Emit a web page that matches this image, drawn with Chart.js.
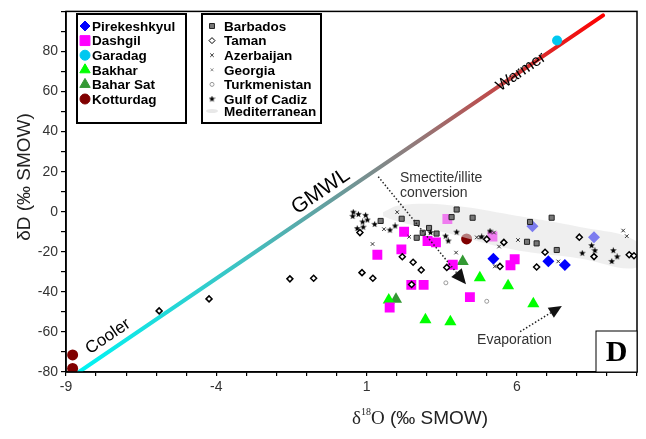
<!DOCTYPE html>
<html>
<head>
<meta charset="utf-8">
<script src="https://cdn.jsdelivr.net/npm/chart.js@4.4.0/dist/chart.umd.min.js"></script>
<style>
  html, body { margin: 0; padding: 0; background: #fff; }
</style>
</head>
<body>
<canvas id="chart" width="646" height="439"></canvas>
<script>
// values, [d18O, dD]
var pirekeshkyul = [[6.52, -7.3], [8.57, -12.7], [5.22, -23.5], [7.05, -24.7], [7.6, -26.6]];
var dashgil = [[2.25, -10.0], [3.03, -14.6], [3.31, -15.3], [1.36, -21.5], [2.16, -18.8], [3.87, -26.5],
  [5.93, -23.7], [5.79, -26.7], [2.49, -36.5], [2.9, -36.5], [4.44, -42.6], [1.77, -47.8],
  [3.69, -3.6], [5.19, -12.4]];
var garadag = [[7.34, 85.5]];
var bakhar = [[4.77, -33.0], [5.71, -37.0], [6.55, -45.9], [1.74, -44.0], [2.96, -53.9], [3.79, -54.9]];
var baharSat = [[4.2, -24.8], [1.98, -43.7]];
var kotturdag = [[-8.78, -71.5], [-8.78, -78.2], [4.33, -13.6]];
var barbados = [[4.0, 1.1], [3.83, -2.7], [4.53, -3.0], [1.47, -4.6], [2.17, -3.5], [2.67, -5.6],
  [3.08, -8.1], [2.87, -10.5], [3.33, -10.9], [2.67, -13.0], [6.44, -5.1], [7.16, -3.0],
  [6.34, -15.0], [6.66, -15.8], [7.33, -19.1]];
var taman = [[-5.9, -49.5], [-4.24, -43.5], [-1.55, -33.5], [-0.76, -33.2], [0.85, -30.4], [1.21, -33.2],
  [2.19, -22.5], [2.55, -25.2], [2.82, -29.1], [2.5, -36.3], [3.67, -27.8], [0.78, -10.4],
  [5.0, -13.7], [5.57, -15.3], [6.94, -20.2], [5.44, -27.3], [6.66, -27.6], [8.08, -12.7],
  [8.57, -22.4], [9.74, -21.5], [9.9, -22.0]];
var azerbaijan = [[2.02, -0.2], [1.2, -16.1], [1.58, -8.7], [2.42, -12.5], [3.98, -20.4], [4.67, -12.8],
  [5.24, -10.4], [5.41, -17.4], [6.04, -14.1], [7.38, -24.8], [5.27, -27.3], [9.54, -9.4],
  [9.66, -12.2], [4.78, -12.8]];
var georgia = [[5.3, -27.0]];
var turkmenistan = [[3.64, -35.5], [5.0, -44.7]];
var gulfOfCadiz = [[0.56, -0.2], [0.73, -1.3], [0.54, -2.3], [0.97, -1.8], [1.03, -4.1], [0.87, -5.1],
  [1.27, -6.3], [0.69, -8.4], [0.89, -7.7], [1.78, -9.2], [1.95, -7.1], [3.13, -10.4],
  [3.63, -12.2], [3.72, -14.6], [4.0, -10.2], [4.83, -12.5], [5.11, -9.7], [8.49, -16.9],
  [8.6, -19.4], [8.18, -20.7], [9.21, -19.4], [9.34, -22.5], [9.16, -24.8]];
var mediterranean = [[1.55, -0.2], [2.11, 3.25], [3.78, 3.25], [5.88, -1.7], [8.1, -7.6], [10.0, -15.0],
  [10.0, -27.8], [8.1, -23.3], [5.88, -18.9], [3.78, -11.0], [2.11, -5.1], [1.55, -2.2]];
var gmwl = [[-8.57, -80], [8.87, 98]];

var xTickLabels = [-9, -4, 1, 6];
var yTickLabels = [-80, -60, -40, -20, 0, 20, 40, 60, 80];

function pts(arr) {
  return arr.map(function (p) { return { x: p[0], y: p[1] }; });
}

function starImage(size, color) {
  var c = document.createElement("canvas");
  c.width = c.height = size;
  var g = c.getContext("2d");
  g.fillStyle = color;
  g.beginPath();
  for (var i = 0; i < 10; i++) {
    var r = i % 2 ? size * 0.2 : size / 2;
    var a = -Math.PI / 2 + (i * Math.PI) / 5;
    g.lineTo(size / 2 + r * Math.cos(a), size / 2 + r * Math.sin(a));
  }
  g.closePath();
  g.fill();
  return c;
}
var star = starImage(7, "#000");

function gmwlGradient(ctx) {
  var chart = ctx.chart;
  if (!chart.chartArea) return "#00e0e0";
  var xs = chart.scales.x, ys = chart.scales.y;
  var g = chart.ctx.createLinearGradient(
    xs.getPixelForValue(gmwl[0][0]), ys.getPixelForValue(gmwl[0][1]),
    xs.getPixelForValue(gmwl[1][0]), ys.getPixelForValue(gmwl[1][1]));
  g.addColorStop(0, "#00f4f4");
  g.addColorStop(0.3, "#3cc4c4");
  g.addColorStop(0.5, "#6a9a9a");
  g.addColorStop(0.65, "#947878");
  g.addColorStop(0.82, "#c84040");
  g.addColorStop(1, "#ff0000");
  return g;
}

var legendLeft = [
  { text: "Pirekeshkyul", style: "rectRot", r: 5, fill: "#0000ff", stroke: "#0000ff" },
  { text: "Dashgil", style: "rect", r: 7, fill: "#ff00ff", stroke: "#ff00ff" },
  { text: "Garadag", style: "circle", r: 5, fill: "#00c8f0", stroke: "#00c8f0" },
  { text: "Bakhar", style: "triangle", r: 6, fill: "#00ff00", stroke: "#00ff00" },
  { text: "Bahar Sat", style: "triangle", r: 6, fill: "#339933", stroke: "#339933" },
  { text: "Kotturdag", style: "circle", r: 5, fill: "#800000", stroke: "#800000" }
];
var legendRight = [
  { text: "Barbados", style: "rect", r: 3.5, fill: "#777", stroke: "#222" },
  { text: "Taman", style: "rectRot", r: 3, fill: "#fff", stroke: "#000" },
  { text: "Azerbaijan", style: "crossRot", r: 2.5, fill: "#000", stroke: "#333" },
  { text: "Georgia", style: "crossRot", r: 2, fill: "#888", stroke: "#888" },
  { text: "Turkmenistan", style: "circle", r: 2, fill: "#fff", stroke: "#999" },
  { text: "Gulf of Cadiz", style: star, r: 4, fill: "#000", stroke: "#000" },
  { text: "Mediterranean", style: null }
];

function arrow(ctx, x1, y1, x2, y2, head) {
  var a = Math.atan2(y2 - y1, x2 - x1);
  var bx = x2 - head * Math.cos(a), by = y2 - head * Math.sin(a);
  ctx.save();
  ctx.strokeStyle = "#222";
  ctx.lineWidth = 1.5;
  ctx.setLineDash([1.5, 2]);
  ctx.beginPath();
  ctx.moveTo(x1, y1);
  ctx.lineTo(bx, by);
  ctx.stroke();
  ctx.setLineDash([]);
  ctx.fillStyle = "#111";
  ctx.beginPath();
  ctx.moveTo(x2, y2);
  ctx.lineTo(bx + head * 0.45 * Math.sin(a), by - head * 0.45 * Math.cos(a));
  ctx.lineTo(bx - head * 0.45 * Math.sin(a), by + head * 0.45 * Math.cos(a));
  ctx.closePath();
  ctx.fill();
  ctx.restore();
}

var extras = {
  id: "extras",
  afterDraw: function (chart) {
    var ctx = chart.ctx, area = chart.chartArea;
    var xs = chart.scales.x, ys = chart.scales.y;
    function px(x) { return xs.getPixelForValue(x); }
    function py(y) { return ys.getPixelForValue(y); }

    // frame
    ctx.save();
    ctx.strokeStyle = "#000";
    ctx.lineWidth = 1.5;
    ctx.strokeRect(area.left, area.top, area.right - area.left, area.bottom - area.top);

    // GMWL labels
    var ang = Math.atan2(py(gmwl[1][1]) - py(gmwl[0][1]), px(gmwl[1][0]) - px(gmwl[0][0]));
    function rotText(t, x, y, font) {
      ctx.save();
      ctx.translate(px(x), py(y));
      ctx.rotate(ang);
      ctx.font = font;
      ctx.fillStyle = "#000";
      ctx.textAlign = "center";
      ctx.textBaseline = "middle";
      ctx.fillText(t, 0, 0);
      ctx.restore();
    }
    rotText("Warmer", 6.14, 69.8, "16px 'Liberation Sans', Arial");
    rotText("GMWL", -0.52, 10.1, "21px 'Liberation Sans', Arial");
    rotText("Cooler", -7.6, -62.3, "17px 'Liberation Sans', Arial");

    // process arrows
    arrow(ctx, px(1.39), py(17.5), px(4.31), py(-36.2), 15);
    arrow(ctx, px(6.11), py(-59.9), px(7.5), py(-47.0), 13);
    ctx.font = "14px 'Liberation Sans', Arial";
    ctx.fillStyle = "#333";
    ctx.textAlign = "left";
    ctx.textBaseline = "middle";
    ctx.fillText("Smectite/illite", px(2.11), py(16.8));
    ctx.fillText("conversion", px(2.11), py(9.2));
    ctx.fillText("Evaporation", px(4.68), py(-64.2));

    // panel letter
    ctx.fillStyle = "#fff";
    ctx.fillRect(area.right - 41, area.bottom - 41, 41, 41);
    ctx.lineWidth = 1;
    ctx.strokeRect(area.right - 41, area.bottom - 41, 41, 41);
    ctx.fillStyle = "#000";
    ctx.font = "bold 30px 'Liberation Serif', 'Times New Roman'";
    ctx.textAlign = "center";
    ctx.fillText("D", area.right - 20.5, area.bottom - 19);

    // axis titles
    ctx.font = "19px 'Liberation Sans', Arial";
    ctx.fillStyle = "#222";
    ctx.save();
    ctx.translate(25, 177);
    ctx.rotate(-Math.PI / 2);
    ctx.textAlign = "center";
    ctx.fillText("\u03b4D (\u2030 SMOW)", 0, 0);
    ctx.restore();
    var tx = 352, ty = 419;
    ctx.textAlign = "left";
    ctx.font = "19px 'Liberation Serif', 'Times New Roman'";
    ctx.fillText("\u03b4", tx, ty);
    tx += ctx.measureText("\u03b4").width;
    ctx.font = "10px 'Liberation Serif', 'Times New Roman'";
    ctx.fillText("18", tx, ty - 7);
    tx += ctx.measureText("18").width;
    ctx.font = "19px 'Liberation Serif', 'Times New Roman'";
    ctx.fillText("O", tx, ty);
    tx += ctx.measureText("O").width;
    ctx.font = "19px 'Liberation Sans', Arial";
    ctx.fillText(" (\u2030 SMOW)", tx, ty);

    // legends
    function legendBox(items, x0, y0, w, h, mx, tx0) {
      ctx.fillStyle = "#fff";
      ctx.fillRect(x0, y0, w, h);
      ctx.strokeStyle = "#000";
      ctx.lineWidth = 2;
      ctx.strokeRect(x0, y0, w, h);
      ctx.font = "bold 13.5px 'Liberation Sans', Arial";
      ctx.textAlign = "left";
      ctx.textBaseline = "middle";
      items.forEach(function (it, i) {
        var y = y0 + 12 + i * 14.6;
        if (i === 6) y = y0 + 97;
        if (it.style) {
          ctx.fillStyle = it.fill;
          ctx.strokeStyle = it.stroke;
          ctx.lineWidth = 1;
          Chart.helpers.drawPoint(ctx, { pointStyle: it.style, radius: it.r, rotation: 0, borderWidth: 1 }, mx, y);
        } else {
          ctx.fillStyle = "#e8e8e8";
          ctx.beginPath();
          ctx.ellipse(mx, y, 6, 2, 0, 0, Math.PI * 2);
          ctx.fill();
        }
        ctx.fillStyle = "#000";
        ctx.fillText(it.text, tx0, y + 1);
      });
    }
    legendBox(legendLeft, 77, 14, 109, 109, 85, 92);
    legendBox(legendRight, 202, 14, 119, 109, 212, 224);
    ctx.restore();
  }
};

new Chart(document.getElementById("chart"), {
  type: "scatter",
  data: {
    datasets: [
      { label: "Garadag", data: pts(garadag), order: 0, pointStyle: "circle", pointRadius: 5,
        backgroundColor: "#00c8f0", borderColor: "#00c8f0", borderWidth: 0 },
      { label: "Gulf of Cadiz", data: pts(gulfOfCadiz), order: 1, pointStyle: star, pointRadius: 3.5 },
      { label: "Azerbaijan", data: pts(azerbaijan), order: 1, pointStyle: "crossRot", pointRadius: 2.5,
        borderColor: "#333", borderWidth: 1 },
      { label: "Georgia", data: pts(georgia), order: 1, pointStyle: "crossRot", pointRadius: 2,
        borderColor: "#888", borderWidth: 1 },
      { label: "Turkmenistan", data: pts(turkmenistan), order: 1, pointStyle: "circle", pointRadius: 2,
        backgroundColor: "#fff", borderColor: "#999", borderWidth: 1 },
      { label: "Taman", data: pts(taman), order: 1, pointStyle: "rectRot", pointRadius: 3,
        backgroundColor: "#fff", borderColor: "#000", borderWidth: 1.5 },
      { label: "Barbados", data: pts(barbados), order: 1, pointStyle: "rect", pointRadius: 3.6,
        backgroundColor: "#777", borderColor: "#222", borderWidth: 1 },
      { label: "Mediterranean", data: pts(mediterranean), order: 2, showLine: true, fill: "shape",
        tension: 0.4, pointRadius: 0, borderWidth: 0, borderColor: "rgba(0,0,0,0)",
        backgroundColor: "rgba(226,226,226,0.55)" },
      { label: "Pirekeshkyul", data: pts(pirekeshkyul), order: 3, pointStyle: "rectRot", pointRadius: 6,
        backgroundColor: "#0000ff", borderColor: "#0000ff", borderWidth: 0 },
      { label: "Dashgil", data: pts(dashgil), order: 3, pointStyle: "rect", pointRadius: 7,
        backgroundColor: "#ff00ff", borderColor: "#ff00ff", borderWidth: 0 },
      { label: "Bakhar", data: pts(bakhar), order: 3, pointStyle: "triangle", pointRadius: 7,
        backgroundColor: "#00ff00", borderColor: "#00ff00", borderWidth: 0 },
      { label: "Bahar Sat", data: pts(baharSat), order: 3, pointStyle: "triangle", pointRadius: 7,
        backgroundColor: "#339933", borderColor: "#339933", borderWidth: 0 },
      { label: "Kotturdag", data: pts(kotturdag), order: 3, pointStyle: "circle", pointRadius: 5.5,
        backgroundColor: "#800000", borderColor: "#800000", borderWidth: 0 },
      { label: "GMWL", data: pts(gmwl), order: 4, showLine: true, pointRadius: 0,
        borderWidth: 4, borderCapStyle: "round", borderColor: gmwlGradient }
    ]
  },
  options: {
    responsive: false,
    animation: false,
    events: [],
    layout: { padding: { top: 7, right: 9, left: 0, bottom: 0 } },
    plugins: { legend: { display: false }, tooltip: { enabled: false } },
    scales: {
      x: {
        type: "linear", min: -9, max: 10,
        afterFit: function (s) { s.height = 67; },
        border: { color: "#000", width: 1.5 },
        grid: { drawOnChartArea: false, color: "#000", tickLength: 4, lineWidth: 1.2 },
        ticks: {
          stepSize: 1, padding: 3, color: "#333", maxRotation: 0, autoSkip: false,
          font: { family: "'Liberation Sans', Arial", size: 14 },
          callback: function (v) { return xTickLabels.indexOf(v) >= 0 ? String(v) : ""; }
        }
      },
      y: {
        type: "linear", min: -80, max: 100,
        afterFit: function (s) { s.width = 66; },
        border: { color: "#000", width: 1.5 },
        grid: { drawOnChartArea: false, color: "#000", tickLength: 5, lineWidth: 1.2 },
        ticks: {
          stepSize: 10, padding: 3, color: "#333", autoSkip: false,
          font: { family: "'Liberation Sans', Arial", size: 14 },
          callback: function (v) { return yTickLabels.indexOf(v) >= 0 ? String(v) : ""; }
        }
      }
    }
  },
  plugins: [extras]
});
</script>
</body>
</html>
